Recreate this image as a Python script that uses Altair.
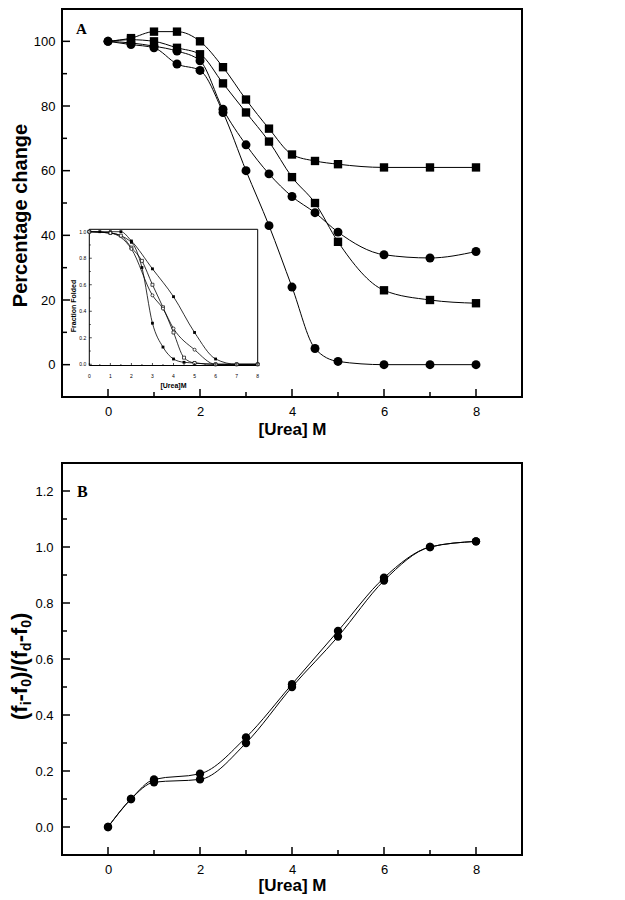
import altair as alt
import pandas as pd

# ---------------- Panel A: percentage change ----------------
urea_a = [0, 0.5, 1, 1.5, 2, 2.5, 3, 3.5, 4, 4.5, 5, 6, 7, 8]
sq_top = [100, 101, 103, 103, 100, 92, 82, 73, 65, 63, 62, 61, 61, 61]
sq_low = [100, 100.5, 100, 98, 96, 87, 78, 69, 58, 50, 38, 23, 20, 19]
ci_up = [100, 99.5, 98.5, 97, 94, 79, 68, 59, 52, 47, 41, 34, 33, 35]
ci_low = [100, 99, 98, 93, 91, 78, 60, 43, 24, 5, 1, 0, 0, 0]

# ---------------- Inset: fraction folded ----------------
in1_x = [0, 0.5, 1, 1.5, 2, 3, 4, 5, 6, 7, 8]
in1_y = [1.0, 1.0, 1.0, 1.0, 0.93, 0.72, 0.51, 0.24, 0.04, 0.0, 0.0]
in2_x = [0, 1, 2, 2.5, 3, 3.5, 4, 4.5, 5, 6, 7, 8]
in2_y = [1.0, 0.99, 0.92, 0.73, 0.31, 0.13, 0.04, 0.015, 0.01, 0.0, 0.0, 0.0]
in3_x = [0, 1, 1.5, 2, 2.5, 3, 3.5, 4, 4.5, 5, 6, 7, 8]
in3_y = [1.0, 0.99, 0.97, 0.88, 0.78, 0.60, 0.43, 0.24, 0.05, 0.01, 0.0, 0.0, 0.0]
in4_x = [0, 1, 2, 3, 3.5, 4, 5, 6, 7, 8]
in4_y = [1.0, 0.99, 0.87, 0.52, 0.42, 0.27, 0.11, 0.0, 0.0, 0.0]

# ---------------- Panel B ----------------
urea_b = [0, 0.5, 1, 2, 3, 4, 5, 6, 7, 8]
b1 = [0, 0.10, 0.17, 0.19, 0.32, 0.51, 0.70, 0.89, 1.00, 1.02]
b2 = [0, 0.10, 0.16, 0.17, 0.30, 0.50, 0.68, 0.88, 1.00, 1.02]

# ---------------- ticks ----------------
x_major = [0, 2, 4, 6, 8]
x_minor = [1, 3, 5, 7]
a_y_major = [0, 20, 40, 60, 80, 100]
a_y_minor = [10, 30, 50, 70, 90]
b_y_major = [0.0, 0.2, 0.4, 0.6, 0.8, 1.0, 1.2]
b_y_minor = [0.1, 0.3, 0.5, 0.7, 0.9, 1.1]
in_x_major = [0, 1, 2, 3, 4, 5, 6, 7, 8]
in_x_minor = [0.5, 1.5, 2.5, 3.5, 4.5, 5.5, 6.5, 7.5]
in_y_major = [0.0, 0.2, 0.4, 0.6, 0.8, 1.0]
in_y_minor = [0.1, 0.3, 0.5, 0.7, 0.9]

W = 460
HA = 388
HB = 392
FONT = "Liberation Sans"


def long_df(xs, series):
    rows = []
    for name, ys, marker in series:
        for xv, yv in zip(xs, ys):
            rows.append({"x": xv, "y": yv, "series": name, "marker": marker})
    return pd.DataFrame(rows)


dfA = long_df(urea_a, [("sq_top", sq_top, "square"), ("sq_low", sq_low, "square"),
                       ("ci_up", ci_up, "circle"), ("ci_low", ci_low, "circle")])
dfB = long_df(urea_b, [("b1", b1, "circle"), ("b2", b2, "circle")])

rows = []
for name, xs, ys, marker in [("i1", in1_x, in1_y, "fsq"), ("i2", in2_x, in2_y, "fsq"),
                             ("i3", in3_x, in3_y, "osq"), ("i4", in4_x, in4_y, "oci")]:
    for xv, yv in zip(xs, ys):
        rows.append({"ix": xv, "iy": yv, "series": name, "marker": marker})
dfI = pd.DataFrame(rows)


def tick_df(vals):
    return pd.DataFrame({"v": vals})


def tick_layers(xs, ys, axx, axy, xmaj, xmin, ymaj, ymin, H):
    layers = []
    for vals, ln in [(xmaj, 8), (xmin, 5)]:
        layers.append(alt.Chart(tick_df(vals)).mark_rule(color="black", strokeWidth=1.5).encode(
            x=alt.X("v:Q", scale=xs, axis=axx), y=alt.value(H), y2=alt.value(H - ln)))
    for vals, ln in [(ymaj, 8), (ymin, 5)]:
        layers.append(alt.Chart(tick_df(vals)).mark_rule(color="black", strokeWidth=1.5).encode(
            y=alt.Y("v:Q", scale=ys, axis=axy), x=alt.value(0), x2=alt.value(ln)))
    return layers


def letter(t, x, y, size):
    return alt.Chart(pd.DataFrame({"t": [t]})).mark_text(
        font="Liberation Serif", fontWeight="bold", fontSize=size, align="left",
        baseline="alphabetic", color="black").encode(text="t:N", x=alt.value(x), y=alt.value(y))


# ===== Panel A main =====
xsA = alt.Scale(domain=[-1, 9], nice=False, zero=False)
ysA = alt.Scale(domain=[-10, 110], nice=False, zero=False)
axAx = alt.Axis(values=x_major, title="[Urea] M", labelPadding=8, titlePadding=3, format="d")
axAy = alt.Axis(values=a_y_major, title="Percentage change", labelPadding=7, format="d",
                titleFontSize=20, titleX=-42, titleY=206, titleBaseline="middle", titleAngle=270)

linesA = alt.Chart(dfA).mark_line(color="black", strokeWidth=1, interpolate="monotone").encode(
    x=alt.X("x:Q", scale=xsA, axis=axAx),
    y=alt.Y("y:Q", scale=ysA, axis=axAy),
    detail="series:N")
sqA = alt.Chart(dfA).transform_filter("datum.marker == 'square' && datum.x > 0").mark_point(
    shape="square", filled=True, color="black", size=70, opacity=1).encode(
    x=alt.X("x:Q", scale=xsA, axis=axAx), y=alt.Y("y:Q", scale=ysA, axis=axAy))
ciA = alt.Chart(dfA).transform_filter("datum.marker == 'circle'").mark_point(
    shape="circle", filled=True, color="black", size=80, opacity=1).encode(
    x=alt.X("x:Q", scale=xsA, axis=axAx), y=alt.Y("y:Q", scale=ysA, axis=axAy))

mainA = alt.layer(linesA, sqA, ciA,
                  *tick_layers(xsA, ysA, axAx, axAy, x_major, x_minor, a_y_major, a_y_minor, HA),
                  letter("A", 14, 24.5, 15))

# ===== Inset =====
IL, IR, IT, IB = 27.3, 195.7, 220.3, 356.5
xsI = alt.Scale(domain=[0, 8], range=[IL, IR], nice=False, zero=False)
ysI = alt.Scale(domain=[0, 1], range=[355.3, 222.7], nice=False, zero=False)

frameI = alt.Chart(pd.DataFrame({"a": [0]})).mark_rect(fill="white", stroke="black", strokeWidth=1).encode(
    x=alt.value(IL), x2=alt.value(IR), y=alt.value(IT), y2=alt.value(IB))
linesI = alt.Chart(dfI).mark_line(color="black", strokeWidth=0.8, interpolate="monotone").encode(
    x=alt.X("ix:Q", scale=xsI, axis=None), y=alt.Y("iy:Q", scale=ysI, axis=None), detail="series:N")
fsqI = alt.Chart(dfI).transform_filter("datum.marker == 'fsq'").mark_point(
    shape="square", filled=True, color="black", size=8, opacity=1).encode(
    x=alt.X("ix:Q", scale=xsI, axis=None), y=alt.Y("iy:Q", scale=ysI, axis=None))
osqI = alt.Chart(dfI).transform_filter("datum.marker == 'osq'").mark_point(
    shape="square", filled=True, fill="white", stroke="black", strokeWidth=0.7, size=9, opacity=1).encode(
    x=alt.X("ix:Q", scale=xsI, axis=None), y=alt.Y("iy:Q", scale=ysI, axis=None))
ociI = alt.Chart(dfI).transform_filter("datum.marker == 'oci'").mark_point(
    shape="circle", filled=True, fill="white", stroke="black", strokeWidth=0.7, size=9, opacity=1).encode(
    x=alt.X("ix:Q", scale=xsI, axis=None), y=alt.Y("iy:Q", scale=ysI, axis=None))

inset_ticks = []
for vals, ln in [(in_x_major, 2.5), (in_x_minor, 1.5)]:
    inset_ticks.append(alt.Chart(tick_df(vals)).mark_rule(color="black", strokeWidth=0.7).encode(
        x=alt.X("v:Q", scale=xsI, axis=None), y=alt.value(IB), y2=alt.value(IB - ln)))
for vals, ln in [(in_y_major, 2.5), (in_y_minor, 1.5)]:
    inset_ticks.append(alt.Chart(tick_df(vals)).mark_rule(color="black", strokeWidth=0.7).encode(
        y=alt.Y("v:Q", scale=ysI, axis=None), x=alt.value(IL), x2=alt.value(IL + ln)))
inset_xlab = alt.Chart(tick_df(in_x_major)).mark_text(fontSize=5, font=FONT, color="black", baseline="middle").encode(
    x=alt.X("v:Q", scale=xsI, axis=None), y=alt.value(IB + 10), text=alt.Text("v:Q", format="d"))
inset_ylab = alt.Chart(tick_df(in_y_major)).mark_text(fontSize=5, font=FONT, color="black", align="right",
                                                      baseline="middle").encode(
    y=alt.Y("v:Q", scale=ysI, axis=None), x=alt.value(IL - 3), text=alt.Text("v:Q", format=".1f"))
inset_xt = alt.Chart(pd.DataFrame({"t": ["[Urea]M"]})).mark_text(
    fontSize=7, font=FONT, fontWeight="bold", color="black", baseline="middle").encode(
    text="t:N", x=alt.value((IL + IR) / 2), y=alt.value(IB + 20))
inset_yt = alt.Chart(pd.DataFrame({"t": ["Fraction Folded"]})).mark_text(
    fontSize=7, font=FONT, fontWeight="bold", color="black", baseline="middle", angle=270).encode(
    text="t:N", x=alt.value(12), y=alt.value(297))

insetA = alt.layer(frameI, linesI, fsqI, osqI, ociI, *inset_ticks, inset_xlab, inset_ylab, inset_xt, inset_yt)

panelA = alt.layer(mainA, insetA).resolve_scale(x="independent", y="independent").properties(width=W, height=HA)

# ===== Panel B =====
xsB = alt.Scale(domain=[-1, 9], nice=False, zero=False)
ysB = alt.Scale(domain=[-0.1, 1.3], nice=False, zero=False)
axBx = alt.Axis(values=x_major, title="[Urea] M", labelPadding=8, titlePadding=1, format="d")
axBy = alt.Axis(values=b_y_major, title=None, labelPadding=9, format=".1f")

linesB = alt.Chart(dfB).mark_line(color="black", strokeWidth=1, interpolate="monotone").encode(
    x=alt.X("x:Q", scale=xsB, axis=axBx),
    y=alt.Y("y:Q", scale=ysB, axis=axBy),
    detail="series:N")
ciB = alt.Chart(dfB).mark_point(shape="circle", filled=True, color="black", size=70, opacity=1).encode(
    x=alt.X("x:Q", scale=xsB, axis=axBx), y=alt.Y("y:Q", scale=ysB, axis=axBy))

# rotated y title with subscripts: (f_i-f_0)/(f_d-f_0)
em = {"(": 0.333, ")": 0.333, "f": 0.333, "-": 0.333, "/": 0.278, "i": 0.278, "0": 0.556, "d": 0.611}
pieces = [("(f", False), ("i", True), ("-f", False), ("0", True), (")/(f", False),
          ("d", True), ("-f", False), ("0", True), (")", False)]
MAIN_FS, SUB_FS = 22, 14
base_x = -35
ycur = 257
title_layers = []
for txt, sub in pieces:
    fs = SUB_FS if sub else MAIN_FS
    title_layers.append(alt.Chart(pd.DataFrame({"t": [txt]})).mark_text(
        font=FONT, fontWeight="bold", fontSize=fs, angle=270, align="left", baseline="alphabetic",
        color="black").encode(text="t:N", x=alt.value(base_x + (4 if sub else 0)), y=alt.value(ycur)))
    ycur -= sum(em[c] for c in txt) * fs

panelB = alt.layer(linesB, ciB,
                   *tick_layers(xsB, ysB, axBx, axBy, x_major, x_minor, b_y_major, b_y_minor, HB),
                   letter("B", 15, 34, 16), *title_layers).properties(width=W, height=HB)

chart = alt.vconcat(panelA, panelB, spacing=24).properties(
    padding={"left": 0, "top": 0, "right": 0, "bottom": 0}
).configure_view(stroke="black", strokeWidth=2).configure_axis(
    grid=False, domain=False, ticks=False, labelFont=FONT, labelFontSize=13, labelColor="black",
    titleFont=FONT, titleFontSize=17, titleFontWeight="bold", titleColor="black")

chart.save("out.html", embed_options={"renderer": "svg", "actions": False})
